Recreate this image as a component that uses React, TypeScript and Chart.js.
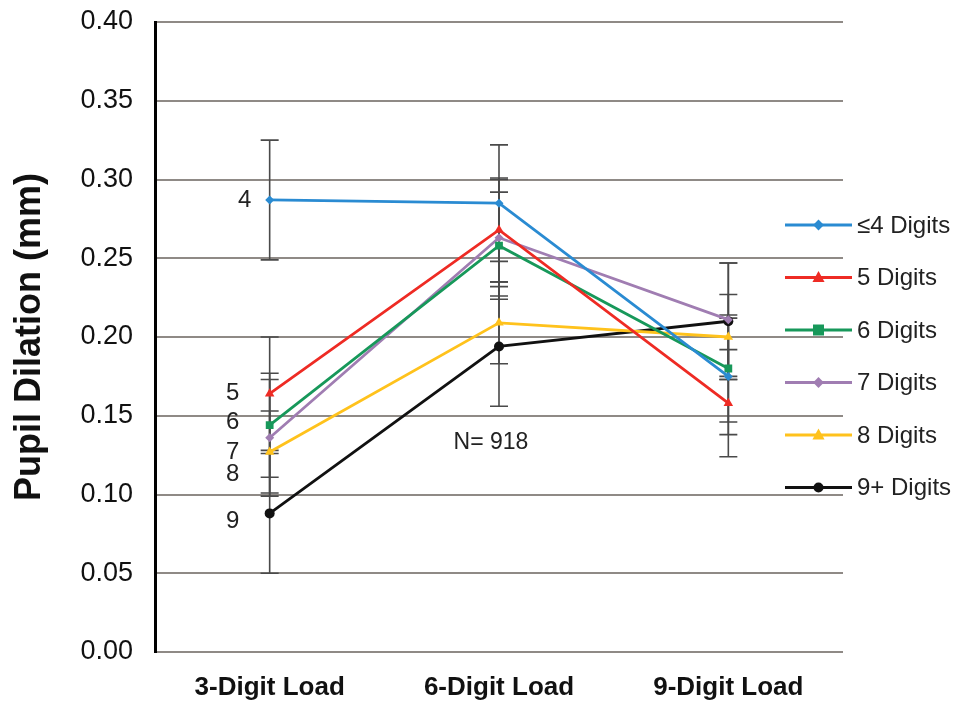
import React, { useEffect, useRef } from "react";
import { Chart, registerables } from "chart.js";

Chart.register(...registerables);

const categories = ["3-Digit Load", "6-Digit Load", "9-Digit Load"];
const seriesNames = ["≤4 Digits", "5 Digits", "6 Digits", "7 Digits", "8 Digits", "9+ Digits"];
const s4 = [0.287, 0.285, 0.175];
const s5 = [0.164, 0.268, 0.158];
const s6 = [0.144, 0.258, 0.180];
const s7 = [0.136, 0.263, 0.211];
const s8 = [0.127, 0.209, 0.200];
const s9 = [0.088, 0.194, 0.210];
const e4 = [0.038, 0.037, 0.037];
const e5 = [0.036, 0.033, 0.034];
const e6 = [0.033, 0.034, 0.034];
const e7 = [0.037, 0.037, 0.036];
const e8 = [0.026, 0.026, 0.027];
const e9 = [0.038, 0.038, 0.037];
const yTicks = [0, 0.05, 0.1, 0.15, 0.2, 0.25, 0.3, 0.35, 0.4];
const pointLabels = ["4", "5", "6", "7", "8", "9"];
const pointLabelValues = [0.287, 0.164, 0.146, 0.127, 0.113, 0.083];
const noteText = "N= 918";
const noteValue = 0.133;

const colors = ["#2a8bd2", "#ee2b24", "#17985a", "#a07db2", "#ffc21c", "#111111"];
const shapes = ["rectRot", "triangle", "rect", "rectRot", "triangle", "circle"];
const radii = [4.5, 5.5, 5.5, 4.5, 5.5, 5];
const allSeries = [s4, s5, s6, s7, s8, s9];
const allErrs = [e4, e5, e6, e7, e8, e9];

const FONT = "'Liberation Sans', Arial, sans-serif";

const errorBarPlugin = {
  id: "errorBars",
  beforeDatasetsDraw(chart: any) {
    const { ctx, scales } = chart;
    const x = scales.x;
    const y = scales.y;
    ctx.save();
    ctx.strokeStyle = "#4a4a4a";
    ctx.lineWidth = 1.6;
    allSeries.forEach((s, i) => {
      s.forEach((v, j) => {
        const px = x.getPixelForValue(j);
        const top = y.getPixelForValue(v + allErrs[i][j]);
        const bot = y.getPixelForValue(v - allErrs[i][j]);
        ctx.beginPath();
        ctx.moveTo(px, top);
        ctx.lineTo(px, bot);
        ctx.moveTo(px - 9, top);
        ctx.lineTo(px + 9, top);
        ctx.moveTo(px - 9, bot);
        ctx.lineTo(px + 9, bot);
        ctx.stroke();
      });
    });
    ctx.restore();
  },
};

const drawMarker = (ctx: any, shape: string, x: number, y: number, r: number, color: string) => {
  ctx.fillStyle = color;
  ctx.beginPath();
  if (shape === "circle") {
    ctx.arc(x, y, r, 0, Math.PI * 2);
  } else if (shape === "rect") {
    ctx.rect(x - r, y - r, 2 * r, 2 * r);
  } else if (shape === "rectRot") {
    ctx.moveTo(x, y - r * 1.2);
    ctx.lineTo(x + r * 1.2, y);
    ctx.lineTo(x, y + r * 1.2);
    ctx.lineTo(x - r * 1.2, y);
    ctx.closePath();
  } else if (shape === "triangle") {
    ctx.moveTo(x, y - r * 1.2);
    ctx.lineTo(x + r * 1.1, y + r * 0.8);
    ctx.lineTo(x - r * 1.1, y + r * 0.8);
    ctx.closePath();
  }
  ctx.fill();
};

const annotationPlugin = {
  id: "annotations",
  afterDraw(chart: any) {
    const { ctx, scales, chartArea } = chart;
    const x = scales.x;
    const y = scales.y;
    ctx.save();
    ctx.fillStyle = "#222";
    ctx.font = `24px ${FONT}`;
    ctx.textAlign = "center";
    ctx.textBaseline = "middle";
    pointLabels.forEach((t, i) => {
      const px = x.getPixelForValue(0) - (i === 0 ? 25 : 37);
      ctx.fillText(t, px, y.getPixelForValue(pointLabelValues[i]));
    });
    ctx.font = `23px ${FONT}`;
    ctx.fillText(noteText, x.getPixelForValue(1) - 8, y.getPixelForValue(noteValue));

    // legend
    const lx0 = chartArea.right - 58;
    const lx1 = chartArea.right + 9;
    const mx = (lx0 + lx1) / 2;
    ctx.font = `24px ${FONT}`;
    ctx.textAlign = "left";
    seriesNames.forEach((name, i) => {
      const ly = 225 + i * 52.5;
      ctx.strokeStyle = colors[i];
      ctx.lineWidth = 2.8;
      ctx.beginPath();
      ctx.moveTo(lx0, ly);
      ctx.lineTo(lx1, ly);
      ctx.stroke();
      drawMarker(ctx, shapes[i], mx, ly, radii[i], colors[i]);
      ctx.fillStyle = "#222";
      ctx.fillText(name, lx1 + 5, ly + 1);
    });
    ctx.restore();
  },
};

export default function App() {
  const ref = useRef<HTMLCanvasElement>(null);
  useEffect(() => {
    if (!ref.current) return;
    const chart = new Chart(ref.current, {
      type: "line",
      data: {
        labels: categories,
        datasets: allSeries.map((s, i) => ({
          label: seriesNames[i],
          data: s,
          borderColor: colors[i],
          backgroundColor: colors[i],
          borderWidth: 2.8,
          pointStyle: shapes[i] as any,
          pointRadius: radii[i],
          pointBorderWidth: 0,
          tension: 0,
        })),
      },
      plugins: [errorBarPlugin, annotationPlugin],
      options: {
        animation: false,
        responsive: false,
        maintainAspectRatio: false,
        layout: { padding: { top: 22, right: 122, bottom: 0, left: 0 } },
        plugins: { legend: { display: false }, tooltip: { enabled: false } },
        scales: {
          x: {
            offset: true,
            grid: { display: false, drawTicks: false },
            border: { display: false },
            ticks: { color: "#111", font: { family: FONT, size: 26, weight: "bold" }, padding: 20 },
            afterFit: (s: any) => { s.height = 55; s.paddingLeft = 0; s.paddingRight = 0; },
          },
          y: {
            min: 0,
            max: 0.4,
            afterBuildTicks: (s: any) => { s.ticks = yTicks.map((v) => ({ value: v })); },
            grid: { color: "#8f8a86", lineWidth: 2, drawTicks: false },
            border: { display: true, color: "#000", width: 3 },
            ticks: {
              color: "#111",
              font: { family: FONT, size: 27 },
              padding: 22,
              callback: (v: any) => Number(v).toFixed(2),
            },
            title: {
              display: true,
              text: "Pupil Dilation (mm)",
              color: "#111",
              font: { family: FONT, size: 36, weight: "bold" },
              padding: { top: 8, bottom: 0 },
            },
            afterFit: (s: any) => { s.width = 155; s.paddingTop = 0; s.paddingBottom = 0; },
          },
        },
      },
    });
    return () => chart.destroy();
  }, []);
  return (
    <div style={{ position: "absolute", left: 0, top: 0, width: 965, height: 707, background: "#fff" }}>
      <canvas ref={ref} width={965} height={707} style={{ width: 965, height: 707 }} />
    </div>
  );
}
